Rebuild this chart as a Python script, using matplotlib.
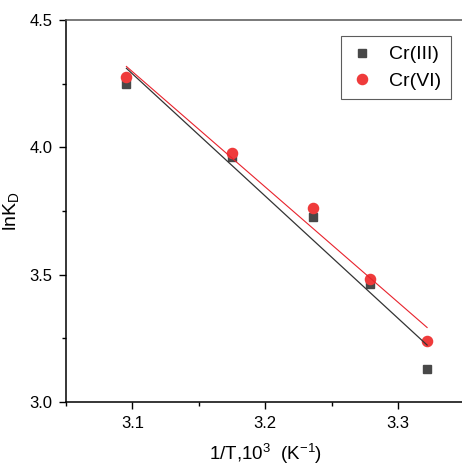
import matplotlib
matplotlib.use('Agg')
import matplotlib.pyplot as plt
import numpy as np
from matplotlib.ticker import MultipleLocator, FormatStrFormatter

plt.rcParams['font.family'] = ['Liberation Sans', 'DejaVu Sans']
plt.rcParams['mathtext.fontset'] = 'custom'
plt.rcParams['mathtext.rm'] = 'Liberation Sans'
plt.rcParams['mathtext.it'] = 'Liberation Sans'
plt.rcParams['axes.unicode_minus'] = False

# data
inv_T = [3.0955, 3.1747, 3.236, 3.279, 3.322]
ln_kd_cr3 = [4.249, 3.962, 3.726, 3.464, 3.129]
ln_kd_cr6 = [4.276, 3.977, 3.762, 3.484, 3.239]

fig = plt.figure(figsize=(4.62, 4.65), dpi=100)
ax = fig.add_axes([0.1429, 0.1355, 0.862, 0.8215])

x = np.array(inv_T)
ax.plot(x, ln_kd_cr3, 's', color='#484848', ms=6.3, label='Cr(III)', zorder=3)
ax.plot(x, ln_kd_cr6, 'o', color='#ef3b3b', ms=7.3, label='Cr(VI)', zorder=4)

# linear fits
for ys, c, lw in [(ln_kd_cr3, '#333333', 0.9), (ln_kd_cr6, '#e8222c', 0.8)]:
    k, b = np.polyfit(x, ys, 1)
    ax.plot(x[[0, -1]], k * x[[0, -1]] + b, '-', color=c, lw=lw, zorder=5)

ax.set_xlim(3.05, 3.35)
ax.set_ylim(3.0, 4.5)
ax.xaxis.set_major_locator(MultipleLocator(0.1))
ax.xaxis.set_minor_locator(MultipleLocator(0.05))
ax.yaxis.set_major_locator(MultipleLocator(0.5))
ax.yaxis.set_minor_locator(MultipleLocator(0.25))
ax.tick_params(which='both', direction='out', top=False, right=False, width=1)
ax.tick_params(which='major', length=5, labelsize=12, pad=5)
ax.tick_params(which='minor', length=3)
ax.xaxis.set_major_formatter(FormatStrFormatter('%.1f'))
ax.yaxis.set_major_formatter(FormatStrFormatter('%.1f'))

for s in ['left', 'bottom']:
    ax.spines[s].set_linewidth(1.1)
ax.spines['top'].set_color('#555555')
ax.spines['top'].set_linewidth(1.1)

ax.set_xlabel('1/T,10$^3$  (K$^{-1}$)', fontsize=13.5, labelpad=8)
ax.set_ylabel('lnK$_\\mathregular{D}$', fontsize=14, labelpad=6)

leg = ax.legend(loc='upper right', bbox_to_anchor=(0.967, 0.958), fontsize=14,
                borderaxespad=0, frameon=True, fancybox=False,
                edgecolor='#333333', handletextpad=0.8, borderpad=0.5,
                labelspacing=0.45, handlelength=1.2)
leg.get_frame().set_linewidth(0.8)

fig.savefig('out.png', dpi=100)
